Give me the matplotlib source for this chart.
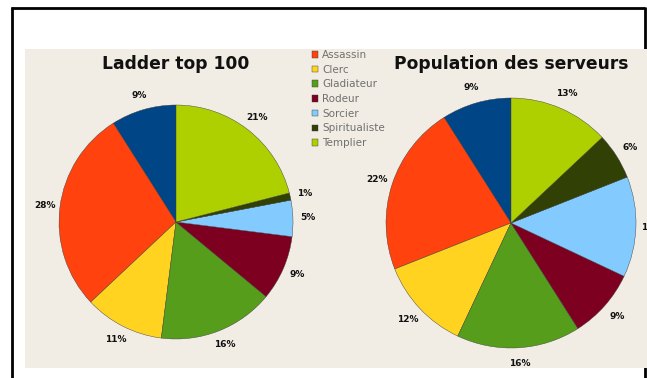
import matplotlib.pyplot as plt
from matplotlib.lines import Line2D
from matplotlib.patches import Rectangle

# class shares (percent), slices listed counterclockwise from 12 o'clock
legend_labels = ['Assassin', 'Clerc', 'Gladiateur', 'Rodeur', 'Sorcier',
                 'Spiritualiste', 'Templier']
ladder_top100 = [9, 28, 11, 16, 9, 5, 1, 21]
population = [9, 22, 12, 16, 9, 13, 6, 13]
titles = ['Ladder top 100', 'Population des serveurs']

# LibreOffice default chart palette
colors = ['#004586', '#ff420e', '#ffd320', '#579d1c', '#7e0021',
          '#83caff', '#314004', '#aecf00']

W, H = 647, 378
fig = plt.figure(figsize=(W / 100, H / 100), dpi=100)
fig.patch.set_facecolor('white')


def fx(px):
    return px / W


def fy(py):
    return 1 - py / H


# black frame of the screenshot
frame = dict(color='black', lw=2, solid_capstyle='butt')
fig.add_artist(Line2D([fx(11.5), fx(11.5)], [fy(7), fy(378)], **frame))
fig.add_artist(Line2D([fx(11), fx(645)], [fy(7.5), fy(7.5)], **frame))
fig.add_artist(Line2D([fx(644.5), fx(644.5)], [fy(7), fy(378)], **frame))

# beige chart background
fig.add_artist(Rectangle((fx(25), fy(368)), fx(647) - fx(25), fy(49) - fy(368),
                         transform=fig.transFigure, facecolor='#f1ede4',
                         edgecolor='none', zorder=2))

pct_font = dict(family=['Liberation Sans Narrow', 'DejaVu Sans'],
                weight='bold', size=6.5, color='#111111')


def draw_pie(cx, cy, r, values, title):
    ax = fig.add_axes([fx(cx - r), fy(cy + r), fx(2 * r), fy(cy - r) - fy(cy + r)])
    ax.set_zorder(3)
    wedges, _, _ = ax.pie(values, colors=colors, startangle=90, counterclock=True,
                          autopct=lambda p: f'{p:.0f}%', pctdistance=1.13,
                          textprops=pct_font,
                          wedgeprops=dict(edgecolor='#3a3a3a', linewidth=0.3))
    ax.set_xlim(-1, 1)
    ax.set_ylim(-1, 1)
    ax.axis('off')
    fig.text(fx(cx), fy(64), title, ha='center', va='center', fontsize=12.3,
             fontweight='bold', color='#111111', zorder=4)
    return wedges


wedges = draw_pie(176, 222, 117, ladder_top100, titles[0])
draw_pie(511, 223, 125, population, titles[1])

leg = fig.legend(handles=wedges[1:], labels=legend_labels, loc='upper left',
                 bbox_to_anchor=(fx(312), fy(50)), frameon=False, fontsize=7.5,
                 handlelength=0.58, handleheight=0.58, handletextpad=0.4,
                 labelspacing=0.45, borderpad=0, borderaxespad=0, labelcolor='#707070')
leg.set_zorder(5)

fig.savefig('out.png', dpi=100)
